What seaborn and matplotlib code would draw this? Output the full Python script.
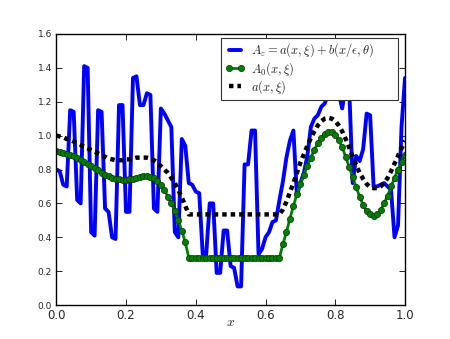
import numpy as np
import pandas as pd
import seaborn as sns
import matplotlib
matplotlib.use("Agg")
import matplotlib.pyplot as plt

# grille en x (101 points entre 0 et 1)
x_grid = np.linspace(0.0, 1.0, 101)

# A_eps = a(x,xi) + b(x/eps,theta)
A_eps = [0.80, 0.79, 0.71, 0.70, 1.15, 1.14, 0.62, 0.60, 1.41, 1.40,
         0.43, 0.41, 1.15, 1.14, 0.57, 0.55, 0.40, 0.39, 1.18, 1.18,
         0.55, 0.55, 1.34, 1.35, 1.18, 1.18, 1.25, 1.24, 0.57, 0.55,
         1.16, 1.13, 1.09, 1.05, 0.43, 0.40, 0.98, 0.94, 0.72, 0.71,
         0.67, 0.66, 0.30, 0.30, 0.60, 0.60, 0.19, 0.19, 0.44, 0.44,
         0.23, 0.22, 0.11, 0.11, 0.83, 0.83, 1.03, 1.03, 0.30, 0.33,
         0.40, 0.43, 0.49, 0.50, 0.62, 0.73, 0.87, 0.97, 1.03, 0.65,
         0.72, 0.78, 0.88, 1.05, 1.10, 1.12, 1.17, 1.19, 1.25, 1.35,
         1.30, 1.25, 1.16, 1.30, 1.28, 0.72, 0.88, 0.85, 0.92, 1.13,
         1.12, 0.70, 0.70, 0.71, 0.72, 0.70, 0.68, 0.40, 0.47, 1.05,
         1.34]

# A_0(x,xi)
A_0 = [0.910, 0.905, 0.900, 0.893, 0.886, 0.878, 0.868, 0.858, 0.846, 0.834,
       0.822, 0.808, 0.795, 0.782, 0.770, 0.760, 0.752, 0.746, 0.742, 0.740,
       0.740, 0.742, 0.746, 0.751, 0.756, 0.760, 0.761, 0.758, 0.750, 0.735,
       0.710, 0.680, 0.640, 0.600, 0.555, 0.500, 0.440, 0.370, 0.280, 0.280,
       0.280, 0.280, 0.280, 0.280, 0.280, 0.280, 0.280, 0.280, 0.280, 0.280,
       0.280, 0.280, 0.280, 0.280, 0.280, 0.280, 0.280, 0.280, 0.280, 0.280,
       0.280, 0.280, 0.280, 0.280, 0.280, 0.360, 0.430, 0.510, 0.585, 0.655,
       0.715, 0.770, 0.820, 0.870, 0.915, 0.955, 0.985, 1.010, 1.020, 1.020,
       1.005, 0.975, 0.930, 0.875, 0.815, 0.755, 0.695, 0.640, 0.590, 0.555,
       0.535, 0.525, 0.535, 0.560, 0.600, 0.645, 0.700, 0.750, 0.800, 0.845,
       0.885]

# a(x,xi)
a_x = [1.000, 0.995, 0.990, 0.980, 0.975, 0.965, 0.955, 0.945, 0.935, 0.925,
       0.915, 0.905, 0.895, 0.885, 0.875, 0.865, 0.860, 0.855, 0.855, 0.855,
       0.860, 0.860, 0.865, 0.870, 0.870, 0.870, 0.870, 0.865, 0.855, 0.840,
       0.820, 0.800, 0.780, 0.750, 0.720, 0.680, 0.635, 0.585, 0.535, 0.535,
       0.535, 0.535, 0.535, 0.535, 0.535, 0.535, 0.535, 0.535, 0.535, 0.535,
       0.535, 0.535, 0.535, 0.535, 0.535, 0.535, 0.535, 0.535, 0.535, 0.535,
       0.535, 0.535, 0.535, 0.535, 0.535, 0.565, 0.610, 0.665, 0.720, 0.780,
       0.840, 0.890, 0.940, 0.985, 1.025, 1.060, 1.085, 1.100, 1.105, 1.100,
       1.085, 1.060, 1.025, 0.980, 0.930, 0.875, 0.825, 0.780, 0.745, 0.715,
       0.695, 0.690, 0.690, 0.700, 0.720, 0.750, 0.790, 0.835, 0.880, 0.925,
       0.970]

df = pd.DataFrame({"x": x_grid, "A_eps": A_eps, "A_0": A_0, "a": a_x})

sns.set_style("ticks", {"xtick.direction": "in", "ytick.direction": "in",
                        "axes.edgecolor": "black"})
plt.rcParams["mathtext.fontset"] = "cm"

fig = plt.figure(figsize=(4.5, 3.39), dpi=100)
ax = fig.add_axes([0.125, 0.1, 0.775, 0.8])

sns.lineplot(data=df, x="x", y="A_eps", ax=ax, color=(0, 0, 1), linewidth=2.8,
             label=r"$A_\varepsilon = a(x,\xi) + b(x/\epsilon,\theta)$")
sns.lineplot(data=df, x="x", y="A_0", ax=ax, color=(0, 0.5, 0), linewidth=2,
             marker="o", markersize=4.5, markeredgecolor="#103010",
             markeredgewidth=0.5, label=r"$A_0(x,\xi)$")
sns.lineplot(data=df, x="x", y="a", ax=ax, color="black", linewidth=3.2,
             linestyle=(0, (1, 0.9)), label=r"$a(x,\xi)$")

ax.set_xlim(0, 1)
ax.set_ylim(0, 1.6)
ax.set_xticks(np.arange(0, 1.01, 0.2))
ax.set_yticks(np.arange(0, 1.61, 0.2))
ax.tick_params(top=True, right=True, length=4, width=0.6, color="black")
ax.tick_params(axis="x", labelsize=8.5, pad=3)
ax.tick_params(axis="y", labelsize=6.5, pad=3)
for s in ax.spines.values():
    s.set_linewidth(1.0)
    s.set_color("black")
ax.set_xlabel(r"$x$", fontsize=10, labelpad=-5)
ax.set_ylabel("")

# legende : cadre fixe en haut a droite, etire en largeur
leg = ax.legend(loc="upper right", bbox_to_anchor=(0.473, 0.5, 0.507, 0.485),
                mode="expand", borderaxespad=0, fontsize=9, numpoints=2,
                fancybox=False, framealpha=1, edgecolor="#333333",
                handlelength=1.6, borderpad=0.3, labelspacing=0.05,
                handletextpad=0.5)
leg.get_frame().set_linewidth(0.8)

fig.savefig("out.png", dpi=100)
